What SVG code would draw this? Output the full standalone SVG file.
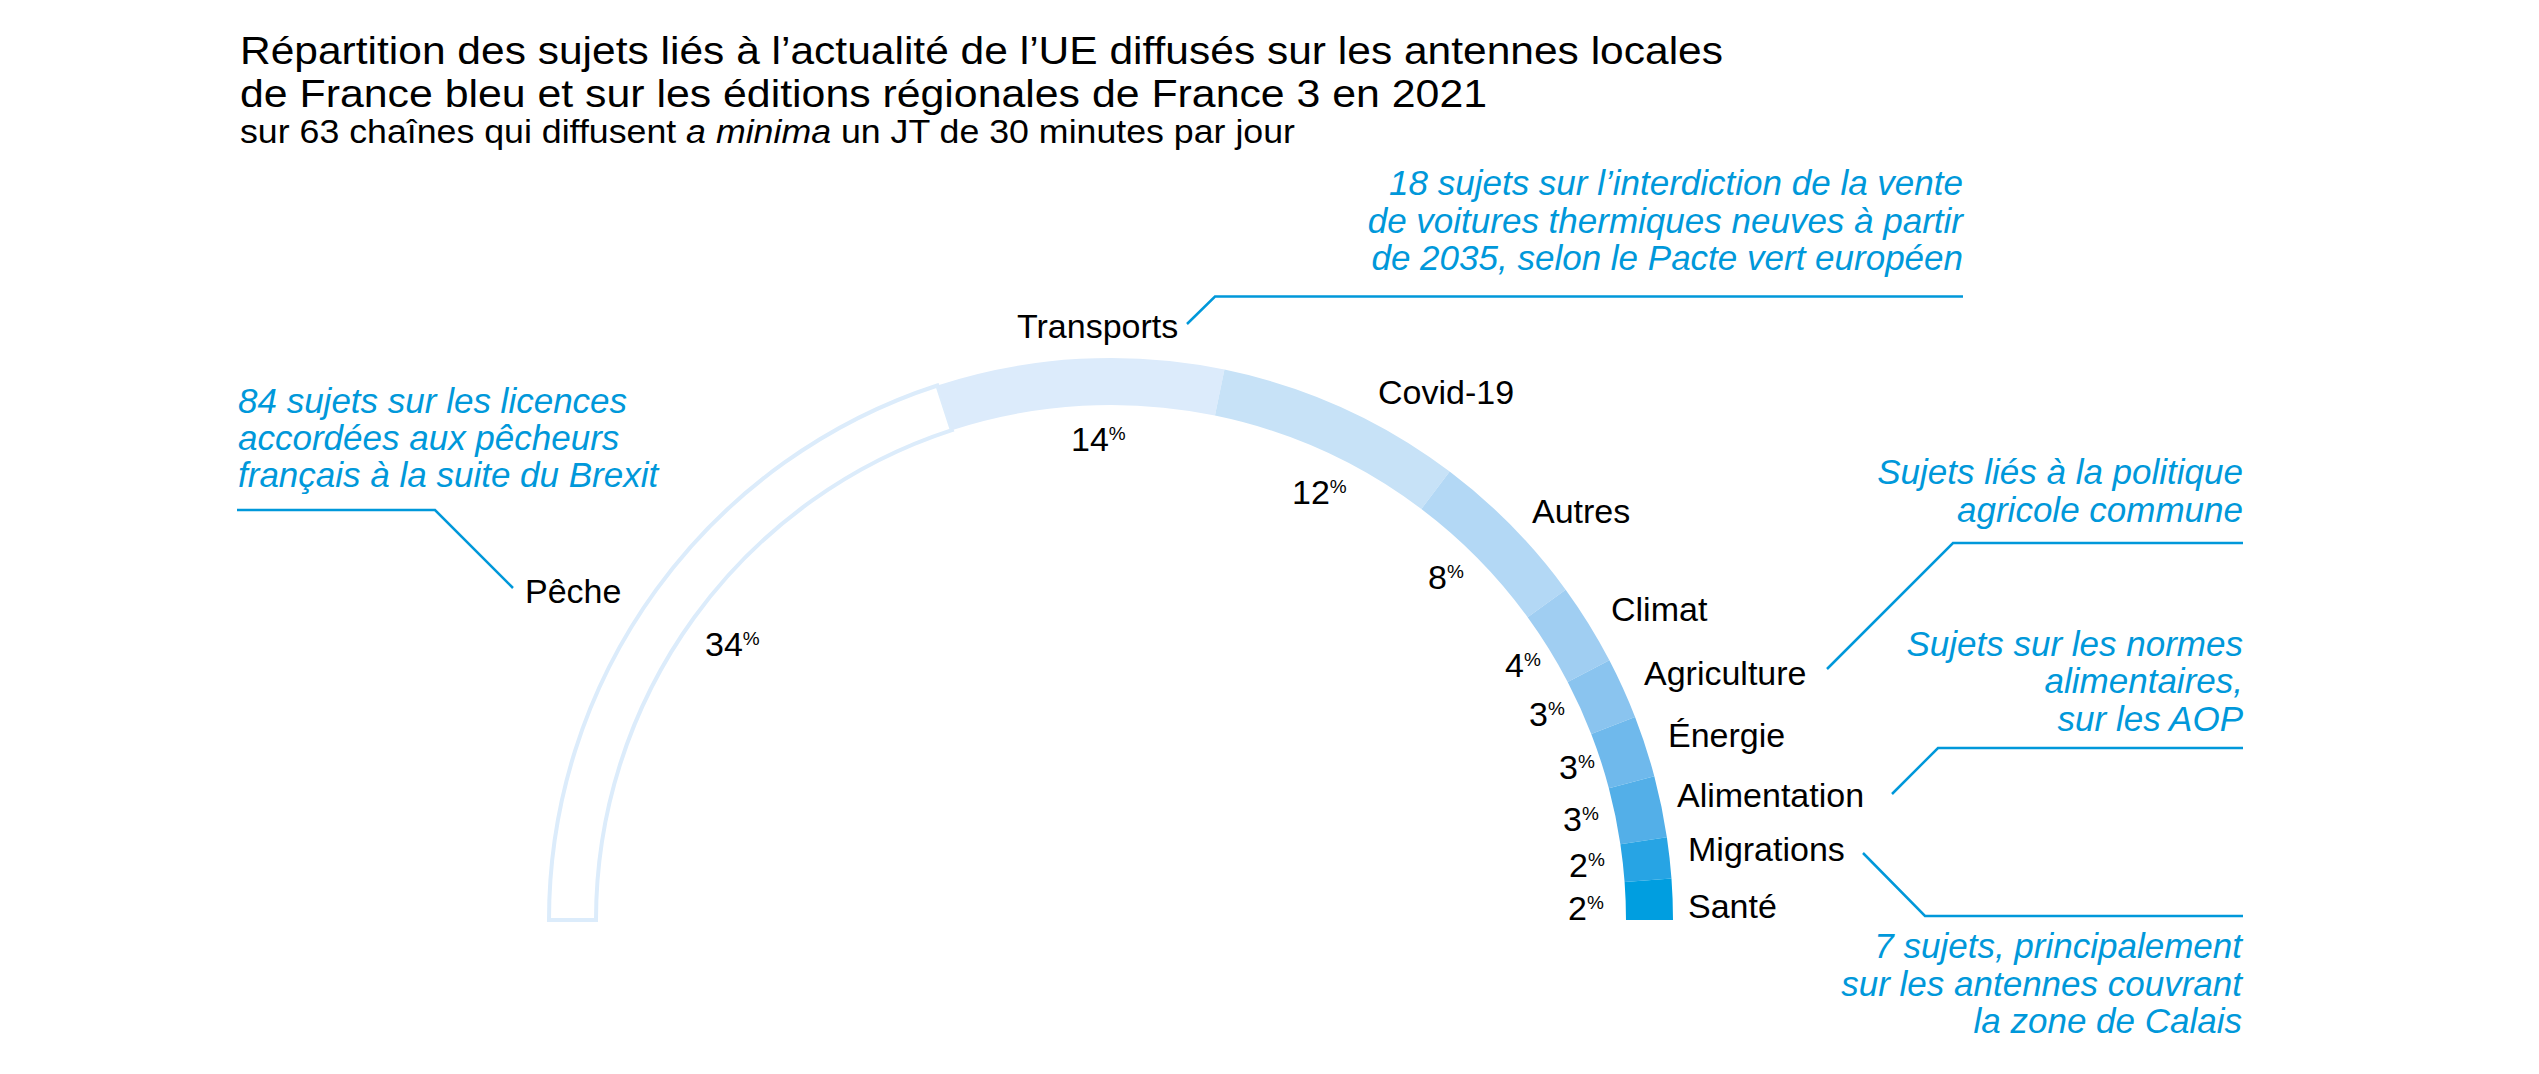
<svg xmlns="http://www.w3.org/2000/svg" width="2539" height="1074" viewBox="0 0 2539 1074">
<style>
text{font-family:"Liberation Sans",Arial,sans-serif;fill:#000}
.t{font-size:38px}
.st{font-size:33px}
.lbl{font-size:34px}
.pct{font-size:34px}
.pc{font-size:19px}
.note{font-size:35px;font-style:italic;fill:#0098da}
.lead{fill:none;stroke:#0098da;stroke-width:2.5}
</style>
<rect width="2539" height="1074" fill="#fff"/>
<g id="title">
<text class="t" x="240" y="64" textLength="1483" lengthAdjust="spacingAndGlyphs">Répartition des sujets liés à l’actualité de l’UE diffusés sur les antennes locales</text>
<text class="t" x="240" y="107" textLength="1247" lengthAdjust="spacingAndGlyphs">de France bleu et sur les éditions régionales de France 3 en 2021</text>
<text class="st" x="240" y="143" textLength="1055" lengthAdjust="spacingAndGlyphs">sur 63 chaînes qui diffusent <tspan font-style="italic">a minima</tspan> un JT de 30 minutes par jour</text>
</g>
<g id="connectors">
<polyline class="lead" points="237,510 435,510 513,588"/>
<polyline class="lead" points="1187,324 1215,296.5 1963,296.5"/>
<polyline class="lead" points="1827,669 1953,543 2243,543"/>
<polyline class="lead" points="1892,794 1938,748 2243,748"/>
<polyline class="lead" points="1863,853 1925,916 2243,916"/>
</g>
<g id="peche">
<path d="M549,920 A562,562 0 0 1 937.33,385.5 L951.85,430.2 A515,515 0 0 0 596,920 Z" fill="#fff" stroke="#dcecfb" stroke-width="4"/>
<text class="lbl" x="525" y="603">Pêche</text>
<text class="pct" x="705" y="656">34<tspan class="pc" dy="-11">%</tspan></text>
<text class="note" x="238" y="413">84 sujets sur les licences</text>
<text class="note" x="238" y="450">accordées aux pêcheurs</text>
<text class="note" x="238" y="487">français à la suite du Brexit</text>
</g>
<g id="transports">
<path d="M937.33,385.5 A562,562 0 0 1 1224.45,369.57 L1214.96,415.6 A515,515 0 0 0 951.85,430.2 Z" fill="#dcebfb"/>
<text class="lbl" x="1017" y="338">Transports</text>
<text class="pct" x="1071" y="451">14<tspan class="pc" dy="-11">%</tspan></text>
<g text-anchor="end">
<text class="note" x="1963" y="195">18 sujets sur l’interdiction de la vente</text>
<text class="note" x="1963" y="233">de voitures thermiques neuves à partir</text>
<text class="note" x="1963" y="270">de 2035, selon le Pacte vert européen</text>
</g>
</g>
<g id="covid">
<path d="M1224.45,369.57 A562,562 0 0 1 1449.68,471.51 L1421.36,509.02 A515,515 0 0 0 1214.96,415.6 Z" fill="#c7e2f7"/>
<text class="lbl" x="1378" y="404">Covid-19</text>
<text class="pct" x="1292" y="504">12<tspan class="pc" dy="-11">%</tspan></text>
</g>
<g id="autres">
<path d="M1449.68,471.51 A562,562 0 0 1 1565.67,589.66 L1527.65,617.29 A515,515 0 0 0 1421.36,509.02 Z" fill="#b3d8f5"/>
<text class="lbl" x="1532" y="523">Autres</text>
<text class="pct" x="1428" y="589">8<tspan class="pc" dy="-11">%</tspan></text>
</g>
<g id="climat">
<path d="M1565.67,589.66 A562,562 0 0 1 1609.37,660.24 L1567.69,681.97 A515,515 0 0 0 1527.65,617.29 Z" fill="#a0cef2"/>
<text class="lbl" x="1611" y="621">Climat</text>
<text class="pct" x="1505" y="677">4<tspan class="pc" dy="-11">%</tspan></text>
</g>
<g id="agriculture">
<path d="M1609.37,660.24 A562,562 0 0 1 1635.05,716.98 L1591.23,733.96 A515,515 0 0 0 1567.69,681.97 Z" fill="#8ac4ef"/>
<text class="lbl" x="1644" y="685">Agriculture</text>
<text class="pct" x="1529" y="726">3<tspan class="pc" dy="-11">%</tspan></text>
<g text-anchor="end">
<text class="note" x="2243" y="484">Sujets liés à la politique</text>
<text class="note" x="2243" y="522">agricole commune</text>
</g>
</g>
<g id="energie">
<path d="M1635.05,716.98 A562,562 0 0 1 1654.3,776.21 L1608.87,788.24 A515,515 0 0 0 1591.23,733.96 Z" fill="#6fb9ec"/>
<text class="lbl" x="1668" y="747">Énergie</text>
<text class="pct" x="1559" y="779">3<tspan class="pc" dy="-11">%</tspan></text>
</g>
<g id="alimentation">
<path d="M1654.3,776.21 A562,562 0 0 1 1666.87,837.21 L1620.38,844.14 A515,515 0 0 0 1608.87,788.24 Z" fill="#53afe8"/>
<text class="lbl" x="1677" y="807">Alimentation</text>
<text class="pct" x="1563" y="831">3<tspan class="pc" dy="-11">%</tspan></text>
<g text-anchor="end">
<text class="note" x="2243" y="656">Sujets sur les normes</text>
<text class="note" x="2243" y="693">alimentaires,</text>
<text class="note" x="2243" y="731">sur les AOP</text>
</g>
</g>
<g id="migrations">
<path d="M1666.87,837.21 A562,562 0 0 1 1671.47,878.5 L1624.6,881.97 A515,515 0 0 0 1620.38,844.14 Z" fill="#27a4e4"/>
<text class="lbl" x="1688" y="861">Migrations</text>
<text class="pct" x="1569" y="877">2<tspan class="pc" dy="-11">%</tspan></text>
<g text-anchor="end">
<text class="note" x="2242" y="958">7 sujets, principalement</text>
<text class="note" x="2242" y="996">sur les antennes couvrant</text>
<text class="note" x="2242" y="1033">la zone de Calais</text>
</g>
</g>
<g id="sante">
<path d="M1671.47,878.5 A562,562 0 0 1 1673,920 L1626,920 A515,515 0 0 0 1624.6,881.97 Z" fill="#009ee0"/>
<text class="lbl" x="1688" y="918">Santé</text>
<text class="pct" x="1568" y="920">2<tspan class="pc" dy="-11">%</tspan></text>
</g>
</svg>
